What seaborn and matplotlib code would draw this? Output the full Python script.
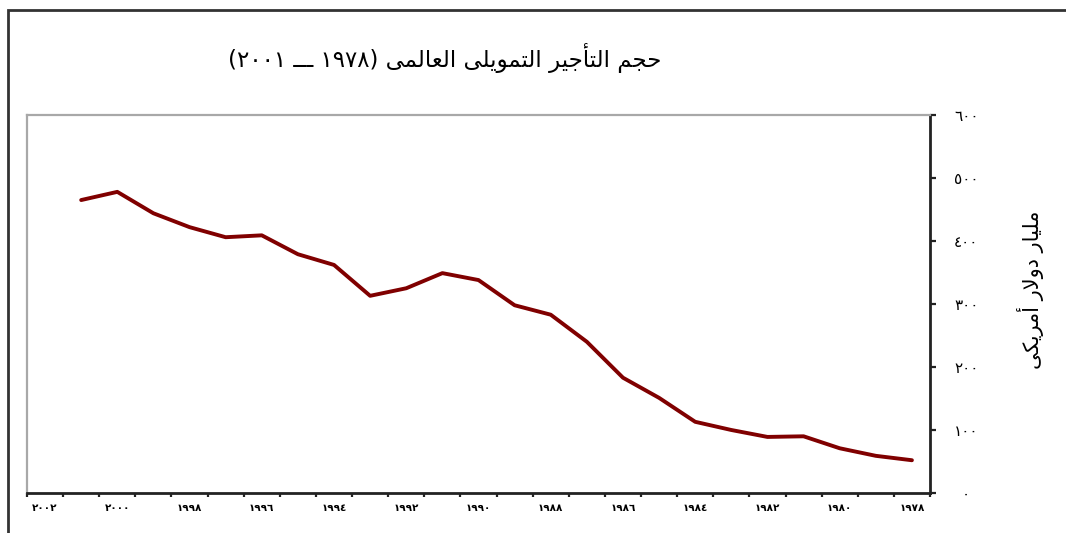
import matplotlib
matplotlib.use("Agg")
import matplotlib.pyplot as plt
import numpy as np
import pandas as pd
import seaborn as sns
from matplotlib.patches import Rectangle

# World finance leasing volume (billion USD)
years = list(range(1978, 2002))
volume = [52, 59, 71, 90, 89, 100, 113, 151, 183, 240, 283, 298,
          338, 349, 325, 313, 362, 379, 409, 406, 422, 444, 478, 465]
y_ticks = [0, 100, 200, 300, 400, 500, 600]
label_years = list(range(1978, 2003, 2))

title_text = "حجم التأجير التمويلى العالمى"
title_years = ("١٩٧٨", "٢٠٠١")
y_title = "مليار دولار أمريكى"

# --- minimal Arabic shaping (matplotlib has no shaping / bidi) ---
FORMS = {  # isolated, final, initial, medial
    "ا": ("\uFE8D", "\uFE8E", None, None),
    "أ": ("\uFE83", "\uFE84", None, None),
    "ت": ("\uFE95", "\uFE96", "\uFE97", "\uFE98"),
    "ج": ("\uFE9D", "\uFE9E", "\uFE9F", "\uFEA0"),
    "ح": ("\uFEA1", "\uFEA2", "\uFEA3", "\uFEA4"),
    "د": ("\uFEA9", "\uFEAA", None, None),
    "ر": ("\uFEAD", "\uFEAE", None, None),
    "ع": ("\uFEC9", "\uFECA", "\uFECB", "\uFECC"),
    "ك": ("\uFED9", "\uFEDA", "\uFEDB", "\uFEDC"),
    "ل": ("\uFEDD", "\uFEDE", "\uFEDF", "\uFEE0"),
    "م": ("\uFEE1", "\uFEE2", "\uFEE3", "\uFEE4"),
    "و": ("\uFEED", "\uFEEE", None, None),
    "ى": ("\uFEEF", "\uFEF0", None, None),
    "ي": ("\uFEF1", "\uFEF2", "\uFEF3", "\uFEF4"),
    "\uE001": ("\uFEFB", "\uFEFC", None, None),  # lam-alef
    "\uE002": ("\uFEF7", "\uFEF8", None, None),  # lam-alef hamza
}


def shape(text):
    text = text.replace("لا", "\uE001").replace("لأ", "\uE002")
    out = []
    for i, ch in enumerate(text):
        if ch not in FORMS:
            out.append(ch)
            continue
        prev = text[i - 1] if i > 0 else ""
        nxt = text[i + 1] if i + 1 < len(text) else ""
        joins_prev = prev in FORMS and FORMS[prev][2] is not None
        joins_next = nxt in FORMS and FORMS[ch][2] is not None
        iso, fin, ini, med = FORMS[ch]
        if joins_prev and joins_next:
            out.append(med)
        elif joins_prev:
            out.append(fin)
        elif joins_next:
            out.append(ini)
        else:
            out.append(iso)
    return "".join(out)[::-1]


DIGITS = str.maketrans("0123456789", "٠١٢٣٤٥٦٧٨٩")


def ar(n):
    return str(n).translate(DIGITS)


df = pd.DataFrame({"year": years, "volume": volume})

sns.set_theme(style="white")
plt.rcParams["font.family"] = ["DejaVu Sans"]
plt.rcParams["text.color"] = "black"
plt.rcParams["xtick.color"] = "black"
plt.rcParams["ytick.color"] = "black"

fig = plt.figure(figsize=(10.66, 5.33), dpi=100)
ax = fig.add_axes([27 / 1066, 40 / 533, 903 / 1066, 378 / 533])

sns.lineplot(data=df, x="year", y="volume", ax=ax, color="#800000",
             linewidth=2.8)

ax.set_xlim(2002.5, 1977.5)
ax.set_ylim(0, 600)
ax.set_xlabel("")
ax.set_ylabel("")

# x axis: labels on even years, tick marks between categories
ax.set_xticks(label_years)
ax.set_xticklabels([ar(y) for y in label_years], fontsize=7.5,
                   fontweight="bold")
ax.set_xticks(np.arange(1977.5, 2003, 1), minor=True)
ax.tick_params(axis="x", which="major", length=0, pad=7)
ax.tick_params(axis="x", which="minor", bottom=True, length=3, width=1.6,
               direction="out", color="#222222")

# y axis on the right
ax.yaxis.tick_right()
ax.set_yticks(y_ticks)
ax.set_yticklabels([ar(v) for v in y_ticks], fontsize=11)
ax.tick_params(axis="y", which="major", right=True, left=False, length=4,
               width=1.6, direction="out", color="#222222", pad=22)
for lab in ax.get_yticklabels():
    lab.set_horizontalalignment("center")

for side in ["top", "left"]:
    ax.spines[side].set_color("#a8a8a8")
    ax.spines[side].set_linewidth(1.6)
for side in ["right", "bottom"]:
    ax.spines[side].set_color("#222222")
    ax.spines[side].set_linewidth(2)

title = "(" + title_years[1] + " ـــ " + title_years[0] + ") " + shape(title_text)
fig.text(445 / 1066, 1 - 58 / 533, title, ha="center", va="center",
         fontsize=16.5)
fig.text(1030 / 1066, 1 - 290 / 533, shape(y_title), ha="center",
         va="center", rotation=90, fontsize=15)

# outer frame of the picture
fig.patches.append(Rectangle((8 / 1066, -0.1), 1.2, 1 - 10 / 533 + 0.1,
                             transform=fig.transFigure, fill=False,
                             lw=2, ec="#333333"))

fig.savefig("out.png", dpi=100, facecolor="white")
